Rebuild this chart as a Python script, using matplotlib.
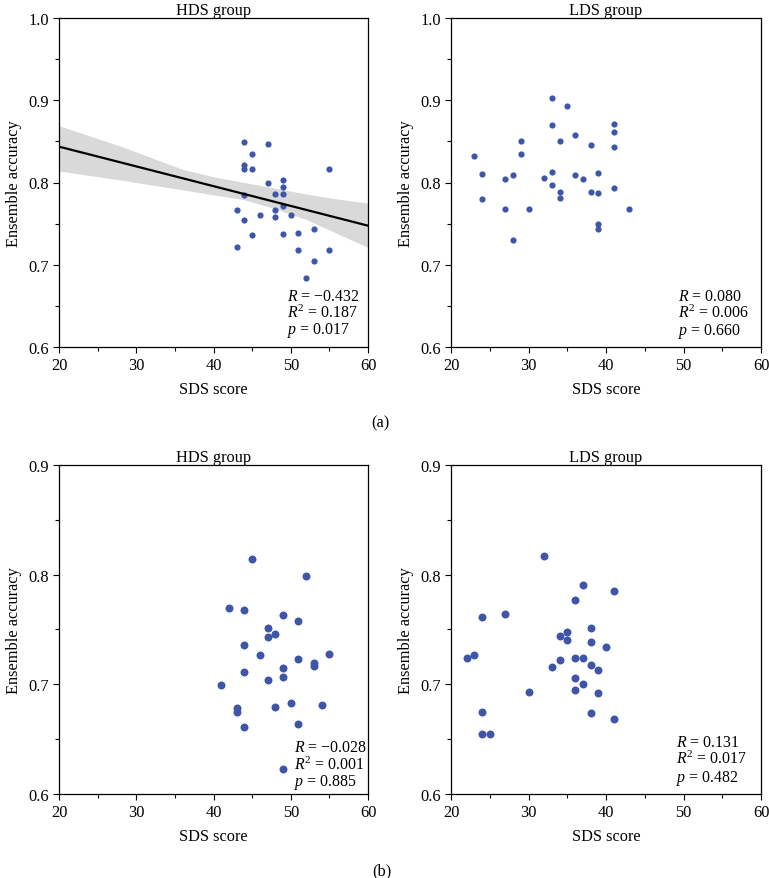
import matplotlib
matplotlib.use('Agg')
import matplotlib.pyplot as plt
from matplotlib.ticker import MultipleLocator

plt.rcParams['font.family'] = ['Liberation Serif', 'DejaVu Serif']
plt.rcParams['mathtext.fontset'] = 'custom'
plt.rcParams['mathtext.rm'] = 'Liberation Serif'
plt.rcParams['mathtext.it'] = 'Liberation Serif:italic'

# (a) HDS group
a_hds_x = [44, 47, 45, 44, 44, 45, 55, 47, 49, 49, 49, 48, 44, 49, 48, 43, 46, 48, 50,
           44, 45, 49, 51, 53, 43, 51, 55, 53, 52]
a_hds_y = [0.849, 0.847, 0.835, 0.821, 0.817, 0.817, 0.817, 0.799, 0.803, 0.794, 0.786,
           0.786, 0.785, 0.772, 0.767, 0.766, 0.761, 0.758, 0.760, 0.754, 0.736, 0.737,
           0.739, 0.744, 0.721, 0.718, 0.718, 0.705, 0.684]
# fitted line and confidence band
fit_x = [20, 60]
fit_y = [0.8436, 0.7475]
band_x = [20, 28, 36, 40, 44, 48, 52, 56, 60]
band_hi = [0.869, 0.844, 0.816, 0.807, 0.800, 0.793, 0.786, 0.780, 0.775]
band_lo = [0.814, 0.803, 0.791, 0.785, 0.779, 0.768, 0.755, 0.738, 0.721]

# (a) LDS group
a_lds_x = [23, 24, 24, 27, 27, 28, 28, 29, 29, 30, 32, 33, 33, 33, 33, 35, 34, 34, 34,
           36, 36, 37, 38, 38, 39, 39, 39, 39, 41, 41, 41, 41, 43]
a_lds_y = [0.832, 0.810, 0.780, 0.804, 0.768, 0.809, 0.730, 0.851, 0.835, 0.768, 0.806,
           0.903, 0.870, 0.813, 0.797, 0.893, 0.851, 0.789, 0.781, 0.858, 0.809, 0.804,
           0.845, 0.789, 0.812, 0.787, 0.750, 0.743, 0.871, 0.861, 0.843, 0.793, 0.768]

# (b) HDS group
b_hds_x = [45, 52, 42, 44, 49, 51, 47, 47, 48, 44, 46, 55, 51, 53, 53, 49, 44, 49, 47,
           41, 50, 54, 48, 43, 43, 51, 44, 49]
b_hds_y = [0.814, 0.799, 0.770, 0.768, 0.763, 0.758, 0.751, 0.743, 0.746, 0.736, 0.727,
           0.728, 0.723, 0.719, 0.717, 0.715, 0.711, 0.707, 0.704, 0.699, 0.683, 0.681,
           0.679, 0.678, 0.675, 0.664, 0.661, 0.623]

# (b) LDS group
b_lds_x = [32, 37, 41, 36, 24, 27, 38, 35, 34, 35, 38, 40, 22, 23, 34, 36, 37, 33, 38,
           39, 36, 37, 36, 30, 39, 24, 38, 41, 24, 25]
b_lds_y = [0.817, 0.791, 0.785, 0.777, 0.761, 0.764, 0.751, 0.748, 0.744, 0.740, 0.739,
           0.734, 0.724, 0.727, 0.722, 0.724, 0.724, 0.716, 0.718, 0.713, 0.706, 0.700,
           0.695, 0.693, 0.692, 0.675, 0.674, 0.668, 0.655, 0.655]

stats = {
    'a_hds': ['\u22120.432', '0.187', '0.017'],
    'a_lds': ['0.080', '0.006', '0.660'],
    'b_hds': ['\u22120.028', '0.001', '0.885'],
    'b_lds': ['0.131', '0.017', '0.482'],
}

dot_color = '#3f56a8'
fs = 11.8
fs_stat = 11.4

fig = plt.figure(figsize=(7.69, 8.79), dpi=100)

left_hds, left_lds = 59 / 769, 451 / 769
w = 310 / 769
bot_a, bot_b = 1 - 348 / 879, 1 - 795 / 879
h = 329 / 879


def style_axes(ax, title, ymax):
    ax.set_xlim(20, 60)
    ax.set_ylim(0.6, ymax)
    ax.xaxis.set_major_locator(MultipleLocator(10))
    ax.xaxis.set_minor_locator(MultipleLocator(5))
    ax.yaxis.set_major_locator(MultipleLocator(0.1))
    ax.yaxis.set_minor_locator(MultipleLocator(0.05))
    ax.yaxis.set_major_formatter(plt.FuncFormatter(lambda v, p: f'{v:.1f}'))
    ax.tick_params(which='major', direction='out', length=4, width=0.8, labelsize=fs, pad=3)
    ax.tick_params(which='minor', direction='out', length=3, width=0.8)
    for s in ax.spines.values():
        s.set_linewidth(0.9)
    ax.set_title(title, fontsize=fs, pad=3)
    ax.set_xlabel('SDS score', fontsize=fs, labelpad=6)
    ax.set_ylabel('Ensemble accuracy', fontsize=fs, labelpad=5)


def add_stats(ax, vals, x0, ys):
    ax.text(x0, ys[0], r'$\mathit{R}$ = ' + vals[0], transform=ax.transAxes,
            fontsize=fs_stat, va='center')
    ax.text(x0, ys[1], r'$\mathit{R}^2$ = ' + vals[1], transform=ax.transAxes,
            fontsize=fs_stat, va='center')
    ax.text(x0, ys[2], r'$\mathit{p}$ = ' + vals[2], transform=ax.transAxes,
            fontsize=fs_stat, va='center')


# (a) HDS
ax1 = fig.add_axes([left_hds, bot_a, w - 1 / 769, h])
ax1.fill_between(band_x, band_lo, band_hi, color='#d9d9d9', lw=0, zorder=1)
ax1.plot(fit_x, fit_y, color='black', lw=1.6, zorder=3)
ax1.scatter(a_hds_x, a_hds_y, s=20, color=dot_color, lw=0, zorder=2)
style_axes(ax1, 'HDS group', 1.0)
add_stats(ax1, stats['a_hds'], 0.738, [0.155, 0.105, 0.052])

# (a) LDS
ax2 = fig.add_axes([left_lds, bot_a, w, h])
ax2.scatter(a_lds_x, a_lds_y, s=20, color=dot_color, lw=0, zorder=2)
style_axes(ax2, 'LDS group', 1.0)
add_stats(ax2, stats['a_lds'], 0.732, [0.155, 0.105, 0.050])

# (b) HDS
ax3 = fig.add_axes([left_hds, bot_b, w - 1 / 769, h])
ax3.scatter(b_hds_x, b_hds_y, s=33, color=dot_color, lw=0, zorder=2)
style_axes(ax3, 'HDS group', 0.9)
add_stats(ax3, stats['b_hds'], 0.761, [0.142, 0.089, 0.037])

# (b) LDS
ax4 = fig.add_axes([left_lds, bot_b, w, h])
ax4.scatter(b_lds_x, b_lds_y, s=33, color=dot_color, lw=0, zorder=2)
style_axes(ax4, 'LDS group', 0.9)
add_stats(ax4, stats['b_lds'], 0.726, [0.157, 0.107, 0.049])

fig.text(380 / 769, 1 - 423 / 879, '(a)', fontsize=fs, ha='center', va='center')
fig.text(382 / 769, 1 - 871 / 879, '(b)', fontsize=fs, ha='center', va='center')

fig.savefig('out.png', dpi=100)
